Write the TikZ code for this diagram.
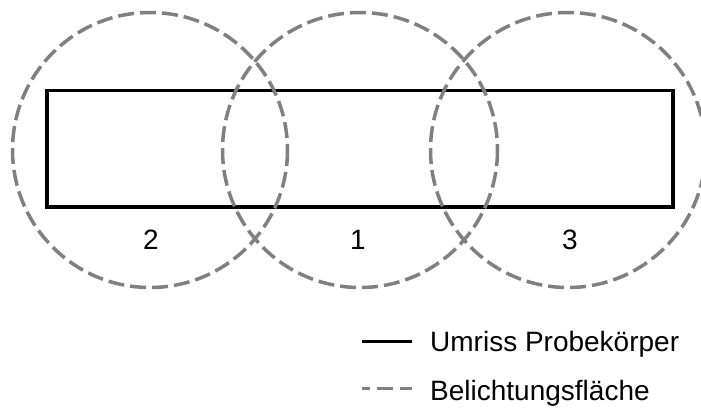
\documentclass[tikz,border=0pt]{standalone}
\usepackage{fontspec}
\setmainfont{Liberation Sans}
\usepackage{xcolor}
\usetikzlibrary{positioning}
\definecolor{spot}{RGB}{128,128,128}

\begin{document}
\begin{tikzpicture}[x=1pt, y=-1pt, font=\fontsize{28}{33}\selectfont,
    outline/.style={draw=black, line width=3.5pt},
    exposure/.style={draw=spot, line width=3.5pt, dash pattern=on 16pt off 6pt},
    legendtext/.style={anchor=base west, inner sep=0pt}]
    \useasboundingbox (0,0) rectangle (701,416);

    % specimen outline
    \draw[outline] (47,90.7) rectangle (673,207);

    % exposure spots
    \draw[exposure] (150,150) circle (137.5);
    \draw[exposure] (360,150) circle (137.5);
    \draw[exposure] (568,150) circle (137.5);

    \node[inner sep=0pt] (spotB) at (151,239.5) {2};
    \node[inner sep=0pt] (spotA) at (358,239.5) {1};
    \node[inner sep=0pt] (spotC) at (570,239.5) {3};

    % legend
    \coordinate (solidL) at (362,341.5);
    \coordinate (solidR) at (412,341.5);
    \coordinate (dashL) at (362,388);
    \coordinate (dashR) at (412,388);
    \draw[outline, line width=3pt] (solidL) -- (solidR);
    \draw[exposure, line width=3pt, dash pattern=on 16pt off 7pt, dash phase=8pt] (dashL) -- (dashR);
    \node[legendtext] (umriss) at (430,351) {Umriss Probekörper};
    \node[legendtext] (belicht) at (430,400) {Belichtungsfläche};
\end{tikzpicture}
\end{document}
